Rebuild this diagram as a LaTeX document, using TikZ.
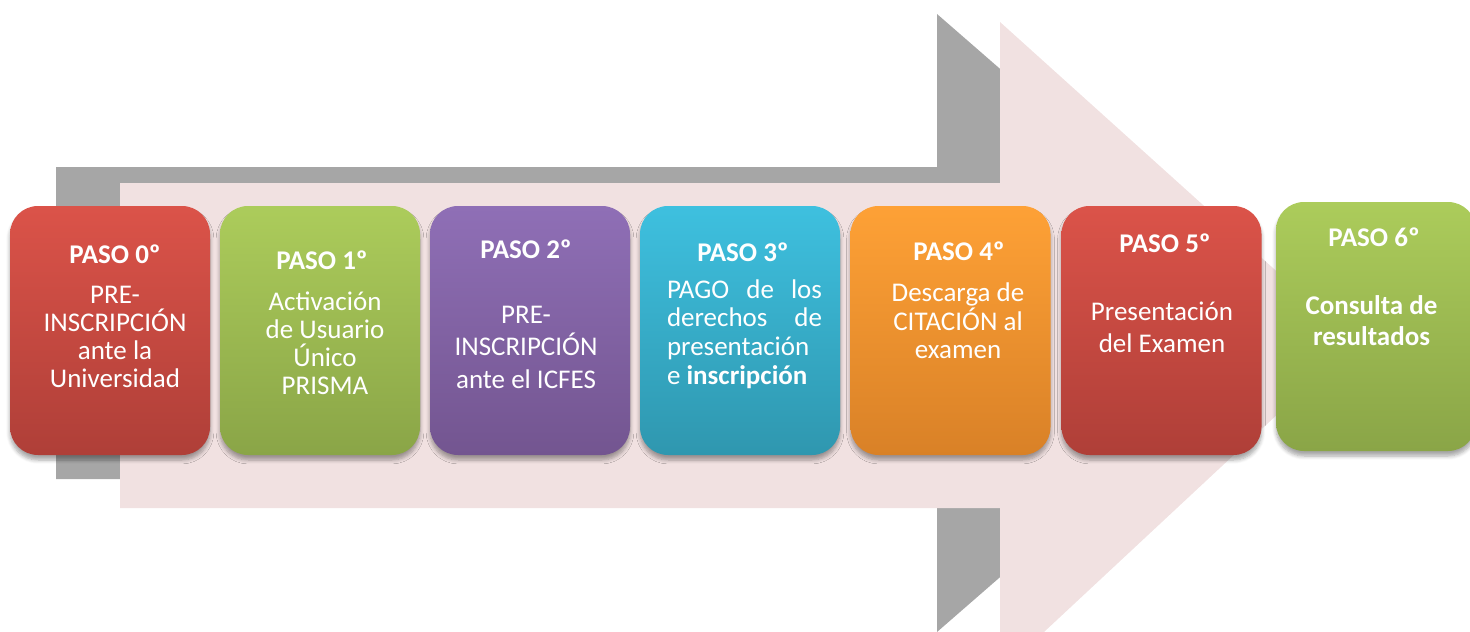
\documentclass[tikz,border=0pt]{standalone}
\usepackage{fontspec}
\setmainfont{Carlito}
\usetikzlibrary{shadows.blur}
\definecolor{redT}{HTML}{DB5349}
\definecolor{redB}{HTML}{AF3F38}
\definecolor{grnT}{HTML}{ACCC5B}
\definecolor{grnB}{HTML}{8AA547}
\definecolor{purT}{HTML}{8F6FB6}
\definecolor{purB}{HTML}{735590}
\definecolor{cynT}{HTML}{3EC0DF}
\definecolor{cynB}{HTML}{2F97AF}
\definecolor{orgT}{HTML}{FEA136}
\definecolor{orgB}{HTML}{D98127}
\definecolor{pinkA}{HTML}{F1E1E1}
\definecolor{greyA}{HTML}{A6A6A6}
\tikzset{
  stepbox/.style={rounded corners=14pt, minimum width=100pt, minimum height=124.5pt, inner sep=0pt,
    blur shadow={shadow xshift=0pt, shadow yshift=-2.5pt, shadow blur steps=6, shadow opacity=35}},
  ttl/.style={font=\fontsize{13.5}{16}\selectfont\bfseries, text=white, inner sep=0pt},
  bdy/.style={text=white, align=center, inner sep=0pt},
}
\begin{document}
\begin{tikzpicture}[x=0.5pt,y=-0.5pt]
\useasboundingbox (0,0) rectangle (1470,631);
% shadow arrow
\fill[greyA] (56,167) -- (937,167) -- (937,14) -- (1292,323) -- (937,632) -- (937,479) -- (56,479) -- cycle;
% main arrow
\fill[pinkA] (120,183) -- (1000,183) -- (1000,22) -- (1355,342) -- (1000,673) -- (1000,508) -- (120,508) -- cycle;
% boxes
\node[stepbox, top color=redT, bottom color=redB] (b0) at (110,330.5) {};
\node[stepbox, top color=grnT, bottom color=grnB] (b1) at (320,330.5) {};
\node[stepbox, top color=purT, bottom color=purB] (b2) at (530,330.5) {};
\node[stepbox, top color=cynT, bottom color=cynB] (b3) at (740,330.5) {};
\node[stepbox, top color=orgT, bottom color=orgB] (b4) at (950.5,330.5) {};
\node[stepbox, top color=redT, bottom color=redB] (b5) at (1161.5,330.5) {};
\node[stepbox, top color=grnT, bottom color=grnB] (b6) at (1376,326.5) {};
% titles
\node[ttl] (t0) at (115,254) {PASO 0º};
\node[ttl] (t1) at (322,260) {PASO 1º};
\node[ttl] (t2) at (526,249) {PASO 2º};
\node[ttl] (t3) at (743,252) {PASO 3º};
\node[ttl] (t4) at (959,251) {PASO 4º};
\node[ttl] (t5) at (1165,243) {PASO 5º};
\node[ttl] (t6) at (1374,237) {PASO 6º};
% bodies
\node[bdy, font=\fontsize{13.5}{14}\selectfont] (d0) at (115,337) {PRE-\\INSCRIPCIÓN\\ante la\\Universidad};
\node[bdy, font=\fontsize{13.5}{14}\selectfont] (d1) at (325,343) {Activación\\de Usuario\\Único\\PRISMA};
\node[bdy, font=\fontsize{13.5}{16.25}\selectfont] (d2) at (526,347) {PRE-\\INSCRIPCIÓN\\ante el ICFES};
\node[bdy, align=left, font=\fontsize{13.5}{14.35}\selectfont] (d3) at (744.5,334) {\makebox[77.5pt][s]{PAGO de los}\\\makebox[77.5pt][s]{derechos de}\\presentación\\e \textbf{inscripción}};
\node[bdy, font=\fontsize{13.5}{14.25}\selectfont] (d4) at (958,321) {Descarga de\\CITACIÓN al\\examen};
\node[bdy, font=\fontsize{13.5}{16}\selectfont] (d5) at (1162,327) {Presentación\\del Examen};
\node[bdy, font=\fontsize{13.5}{15.5}\selectfont\bfseries] (d6) at (1371.5,321) {Consulta de\\resultados};
\end{tikzpicture}
\end{document}
